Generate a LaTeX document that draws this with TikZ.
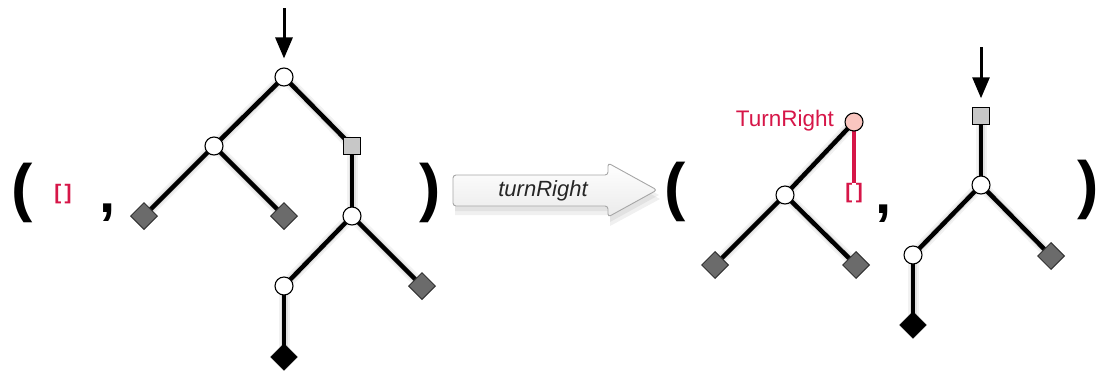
\documentclass[tikz,border=0pt]{standalone}
\usepackage{fontspec}
\setmainfont{Liberation Sans}
\usetikzlibrary{shapes.geometric,arrows.meta,backgrounds}
\definecolor{crim}{RGB}{214,22,72}
\definecolor{pinkn}{RGB}{250,198,192}
\tikzset{
  cnode/.style={circle,draw=black,line width=1.1pt,fill=white,minimum size=18pt,inner sep=0pt},
  pnode/.style={cnode,fill=pinkn},
  snode/.style={rectangle,draw=black,line width=1pt,fill=black!22,minimum size=16.5pt,inner sep=0pt},
  dnode/.style={diamond,draw=black!80,line width=1pt,fill=black!58,minimum size=27pt,inner sep=0pt},
  bnode/.style={diamond,draw=black,fill=black,minimum size=27pt,inner sep=0pt},
  edge/.style={line width=4.5pt,black},
  shadA/.style={line width=11pt,black,opacity=0.05,line cap=round},
  shadB/.style={line width=7pt,black,opacity=0.07,line cap=round},
  inarrow/.style={line width=3pt,-{Triangle[length=21pt,width=17pt]},shorten >=9pt},
  paren/.style={font=\fontsize{64}{64}\selectfont\bfseries,inner sep=0pt},
  bigcomma/.style={font=\fontsize{58}{58}\selectfont\bfseries,inner sep=0pt},
  nilbr/.style={text=crim,font=\fontsize{21}{21}\selectfont\bfseries,inner sep=0pt},
  redlab/.style={text=crim,font=\fontsize{22.5}{22.5}\selectfont,inner sep=0pt},
}
\begin{document}
\begin{tikzpicture}[x=1pt,y=-1pt]
\useasboundingbox (0,0) rectangle (1099,381);

% ---------- left pair ----------
\node[paren] (lp1) at (22,193) {(};
\node[nilbr] (nil1) at (63,194) {[\,]};
\node[bigcomma] (c1) at (108,213) {,};
\node[paren] (rp1) at (430,193) {)};

\node[cnode] (r1) at (284,77) {};
\node[cnode] (a1) at (214,146) {};
\node[snode] (s1) at (352,146) {};
\node[dnode] (d1) at (144,216) {};
\node[dnode] (d2) at (284,216) {};
\node[cnode] (b1) at (352,216) {};
\node[cnode] (e1) at (284,286) {};
\node[dnode] (d3) at (422,286) {};
\node[bnode] (k1) at (284,357) {};
\coordinate (t1) at (284,8);

% ---------- transformation arrow ----------
\fill[black,opacity=0.06] (455,184) -- (610,184) -- (610,172) -- (660,199) -- (610,226) -- (610,215) -- (455,215) -- cycle;
\fill[black,opacity=0.06] (455,180) -- (610,180) -- (610,168) -- (659,195) -- (610,222) -- (610,211) -- (455,211) -- cycle;
\draw[black!35,line width=0.9pt,top color=white,bottom color=black!8,rounded corners=3pt]
  (453,175) -- (608,175) -- (608,163) -- (657,190) -- (608,217) -- (608,206) -- (453,206) -- cycle;
\node[font=\fontsize{22}{22}\selectfont\itshape,text=black!85] (op) at (543,191) {turnRight};

% ---------- right pair ----------
\node[paren] (lp2) at (675,192) {(};
\node[pnode] (p2) at (854,122) {};
\node[redlab,anchor=east] (tr) at (834,121) {TurnRight};
\node[nilbr] (nil2) at (854,193) {[\,]};
\node[cnode] (a2) at (785,195) {};
\node[dnode] (d4) at (715,265) {};
\node[dnode] (d5) at (856,265) {};
\node[bigcomma] (c2) at (884,214) {,};

\node[snode] (s2) at (981,116) {};
\node[cnode] (r2) at (981,185) {};
\node[cnode] (e2) at (913,255) {};
\node[dnode] (d6) at (1051,256) {};
\node[bnode] (k2) at (913,325) {};
\coordinate (t2) at (981,47);
\node[paren] (rp2) at (1088,190) {)};

% ---------- edges ----------
\begin{scope}[on background layer]
  \foreach \u/\v in {r1/a1,r1/s1,a1/d1,a1/d2,s1/b1,b1/e1,b1/d3,e1/k1,
                     p2/a2,a2/d4,a2/d5,s2/r2,r2/e2,r2/d6,e2/k2}{
    \draw[shadA,shift={(2pt,-5pt)}] (\u.center) -- (\v.center);
    \draw[shadB,shift={(2pt,-4pt)}] (\u.center) -- (\v.center);
    \draw[edge] (\u.center) -- (\v.center);
  }
  \draw[line width=3.2pt,crim] (p2.center) -- (nil2.north);
\end{scope}

\draw[inarrow] (t1) -- (r1.north);
\draw[inarrow] (t2) -- (s2.north);
\end{tikzpicture}
\end{document}
